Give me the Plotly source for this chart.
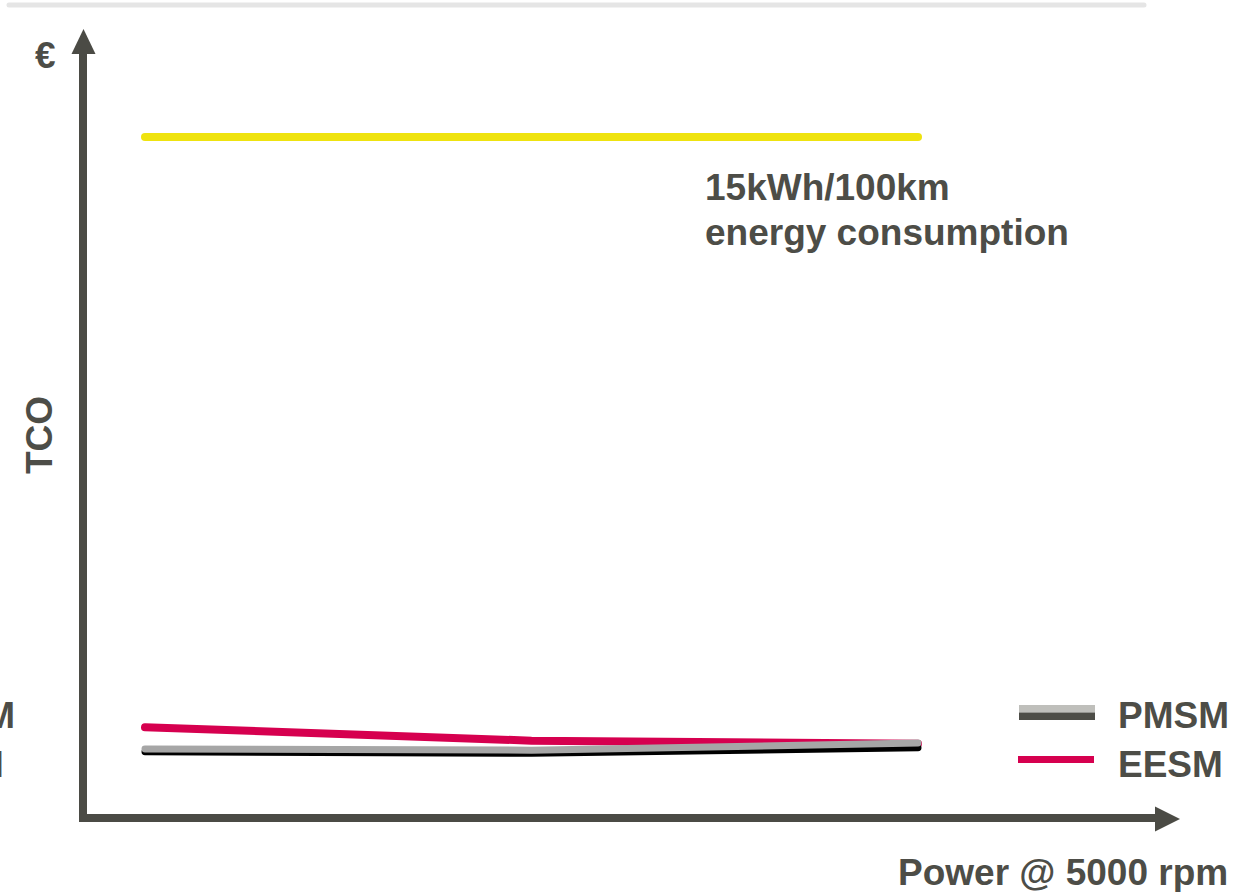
import plotly.graph_objects as go

W, H = 1249, 892

# Power operating points (equally spaced along the x axis)
power_points = [1, 2, 3]
# TCO values per machine type (arbitrary units, 0 on the x axis)
consumption_15kwh = [86.3, 86.3, 86.3]
eesm_tco = [11.5, 9.8, 9.4]
pmsm_tco = [8.75, 8.6, 9.5]
pmsm_shadow = [8.4, 8.2, 8.9]

legend_names = ["PMSM", "EESM"]

TEXT = "#4d4d47"
AXIS = "#4b4b45"
YELLOW = "#efe30f"
RED = "#d6004f"
GREY = "#a6a6a6"
FONT = "Liberation Sans, Arial, sans-serif"


def px(x):
    return x / W


def py(y):
    return 1 - y / H


# data axes: value 1 -> 145px, value 3 -> 918px ; TCO 0 -> 818px, 100 -> 29px
x_scale = (918 - 145) / 2.0
x_range = [1 - 145 / x_scale, 1 + (W - 145) / x_scale]
y_scale = (818 - 29) / 100.0
y_range = [-(H - 818) / y_scale, 818 / y_scale]

fig = go.Figure()
fig.add_trace(go.Scatter(x=power_points, y=consumption_15kwh, mode="lines",
                         line=dict(color=YELLOW, width=8), hoverinfo="skip"))
fig.add_trace(go.Scatter(x=power_points, y=eesm_tco, mode="lines",
                         line=dict(color=RED, width=8), name="EESM"))
fig.add_trace(go.Scatter(x=power_points, y=pmsm_shadow, mode="lines",
                         line=dict(color="#000000", width=7), hoverinfo="skip"))
fig.add_trace(go.Scatter(x=power_points, y=pmsm_tco, mode="lines",
                         line=dict(color=GREY, width=7), name="PMSM"))

shapes = []
# top rule
shapes.append(dict(type="line", xref="paper", yref="paper",
                   x0=px(9), x1=px(1144), y0=py(5), y1=py(5),
                   line=dict(color="#e5e5e5", width=5)))
# y axis arrow
shapes.append(dict(type="rect", xref="paper", yref="paper",
                   x0=px(79), x1=px(87), y0=py(822), y1=py(50),
                   fillcolor=AXIS, line=dict(width=0)))
shapes.append(dict(type="path", xref="paper", yref="paper",
                   path=f"M {px(71.5)} {py(54)} L {px(95.5)} {py(54)} L {px(83.5)} {py(29)} Z",
                   fillcolor=AXIS, line=dict(width=0)))
# x axis arrow
shapes.append(dict(type="rect", xref="paper", yref="paper",
                   x0=px(79), x1=px(1158), y0=py(822), y1=py(814),
                   fillcolor=AXIS, line=dict(width=0)))
shapes.append(dict(type="path", xref="paper", yref="paper",
                   path=f"M {px(1155)} {py(806.5)} L {px(1155)} {py(831.5)} L {px(1180)} {py(819)} Z",
                   fillcolor=AXIS, line=dict(width=0)))
# legend handles
shapes.append(dict(type="rect", xref="paper", yref="paper",
                   x0=px(1019), x1=px(1095), y0=py(712.5), y1=py(705),
                   fillcolor="#bfbfbb", line=dict(width=0)))
shapes.append(dict(type="rect", xref="paper", yref="paper",
                   x0=px(1019), x1=px(1095), y0=py(720), y1=py(712.5),
                   fillcolor=TEXT, line=dict(width=0)))
shapes.append(dict(type="rect", xref="paper", yref="paper",
                   x0=px(1018), x1=px(1094), y0=py(763), y1=py(756),
                   fillcolor=RED, line=dict(width=0)))

font = dict(family=FONT, size=37, color=TEXT)
bold = lambda s: f"<b>{s}</b>"
annotations = [
    dict(text=bold("€"), x=px(45), y=py(56), xanchor="center", yanchor="middle"),
    dict(text=bold("TCO"), x=px(39), y=py(435), textangle=-90,
         xanchor="center", yanchor="middle"),
    dict(text=bold("15kWh/100km"), x=px(703), y=py(165),
         xanchor="left", yanchor="top", align="left"),
    dict(text=bold("energy consumption"), x=px(703), y=py(210),
         xanchor="left", yanchor="top", align="left"),
    dict(text=bold("Power @ 5000 rpm"), x=px(1230), y=py(872),
         xanchor="right", yanchor="middle"),
    dict(text=bold(legend_names[0]), x=px(1116), y=py(715),
         xanchor="left", yanchor="middle"),
    dict(text=bold(legend_names[1]), x=px(1116), y=py(764),
         xanchor="left", yanchor="middle"),
    dict(text=bold(legend_names[0]), x=px(17), y=py(715),
         xanchor="right", yanchor="middle"),
    dict(text=bold(legend_names[1]), x=px(6), y=py(764),
         xanchor="right", yanchor="middle"),
]
for a in annotations:
    a.update(xref="paper", yref="paper", showarrow=False, font=font)

fig.update_layout(
    width=W, height=H,
    margin=dict(l=0, r=0, t=0, b=0),
    paper_bgcolor="white", plot_bgcolor="white",
    showlegend=False,
    xaxis=dict(range=x_range, visible=False, fixedrange=True),
    yaxis=dict(range=y_range, visible=False, fixedrange=True),
    shapes=shapes,
    annotations=annotations,
)

round_caps = """
document.querySelectorAll('.scatterlayer path.js-line, .shapelayer path').forEach(function(p){
  p.style.strokeLinecap = 'round';
});
"""
fig.write_html("out.html", post_script=round_caps,
               config={"displayModeBar": False})
